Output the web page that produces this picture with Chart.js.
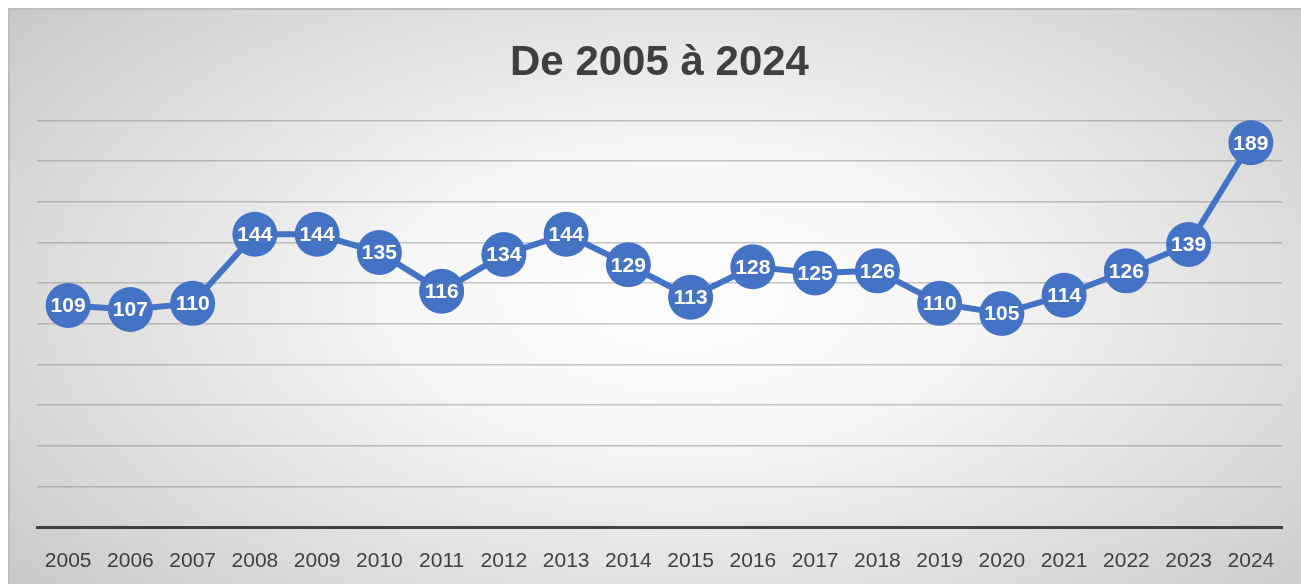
<!DOCTYPE html>
<html>
<head>
<meta charset="utf-8">
<script src="https://cdn.jsdelivr.net/npm/chart.js@4/dist/chart.umd.min.js"></script>
<style>
html,body{margin:0;padding:0;background:#fff;}
#wrap{position:absolute;left:8px;top:8px;width:1293px;height:576px;
background:radial-gradient(ellipse 72% 85% at 52% 50%, #ffffff 0%, #f6f6f6 30%, #dadada 70%, #c4c4c4 100%);
border-top:2px solid #bdbdbd;border-left:2px solid #bdbdbd;box-sizing:border-box;}
#c{position:absolute;left:0;top:0;}
</style>
</head>
<body>
<div id="wrap"></div>
<canvas id="c" width="1301" height="584"></canvas>
<script>
const years = ["2005","2006","2007","2008","2009","2010","2011","2012","2013","2014","2015","2016","2017","2018","2019","2020","2021","2022","2023","2024"];
const counts = [109,107,110,144,144,135,116,134,144,129,113,128,125,126,110,105,114,126,139,189];
const chartTitle = "De 2005 à 2024";

const labelPlugin = {
  id: 'pointLabels',
  afterDatasetsDraw(chart) {
    const ctx = chart.ctx;
    const meta = chart.getDatasetMeta(0);
    ctx.save();
    ctx.fillStyle = '#ffffff';
    ctx.font = 'bold 21px "Liberation Sans", Arial, sans-serif';
    ctx.textAlign = 'center';
    ctx.textBaseline = 'middle';
    meta.data.forEach((p, i) => {
      ctx.fillText(String(chart.data.datasets[0].data[i]), p.x, p.y + 1);
    });
    ctx.restore();
  }
};

new Chart(document.getElementById('c'), {
  type: 'line',
  data: {
    labels: years,
    datasets: [{
      data: counts,
      borderColor: '#4472C4',
      backgroundColor: '#4472C4',
      borderWidth: 6,
      pointRadius: 22.5,
      pointHoverRadius: 22.5,
      pointBorderWidth: 0,
      pointBackgroundColor: '#4472C4',
      tension: 0,
      clip: false
    }]
  },
  options: {
    responsive: false,
    animation: false,
    layout: { autoPadding: false, padding: { left: 37, right: 19, top: 8, bottom: 0 } },
    plugins: {
      legend: { display: false },
      tooltip: { enabled: false },
      title: {
        display: true,
        text: chartTitle,
        color: '#3f3f3f',
        font: { family: '"Liberation Sans", Arial, sans-serif', size: 42, weight: 'bold' },
        padding: { top: 30, bottom: 32 }
      }
    },
    scales: {
      x: {
        offset: true,
        grid: { display: false, drawTicks: false },
        border: { display: true, color: '#404040', width: 3 },
        ticks: {
          color: '#404040',
          padding: 22,
          font: { family: '"Liberation Sans", Arial, sans-serif', size: 21 }
        },
        afterFit(scale) { scale.height = 57; scale.paddingLeft = 0; scale.paddingRight = 0; }
      },
      y: {
        min: 0, max: 200,
        ticks: { display: false, stepSize: 20 },
        border: { display: false },
        grid: { color: 'rgba(140,140,140,0.5)', lineWidth: 1.5, drawTicks: false }
      }
    }
  },
  plugins: [labelPlugin]
});
</script>
</body>
</html>
